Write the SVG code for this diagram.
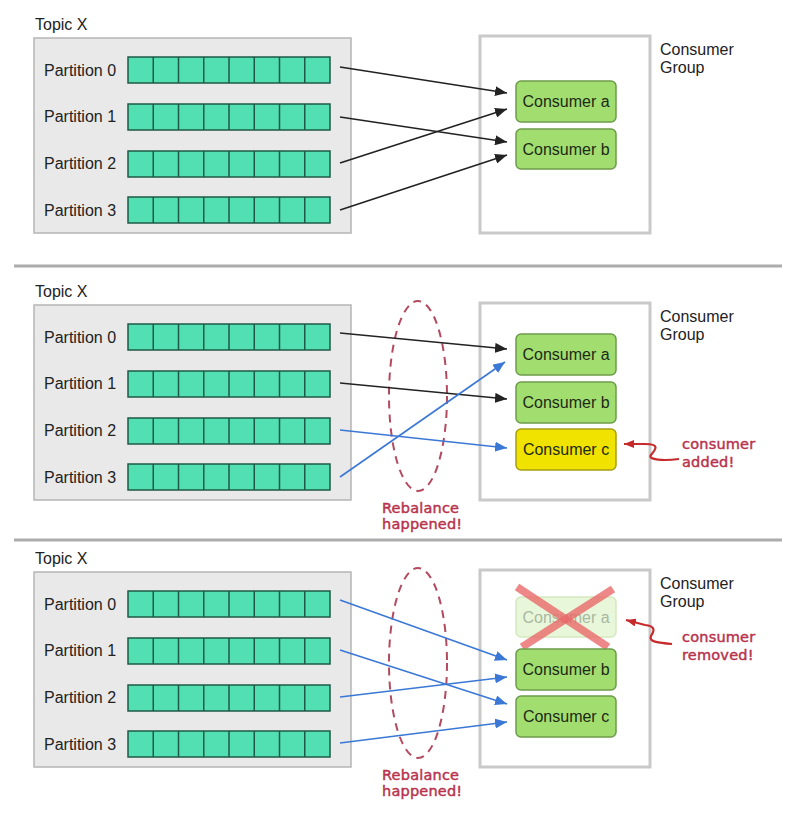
<svg xmlns="http://www.w3.org/2000/svg" xmlns:xlink="http://www.w3.org/1999/xlink" width="802" height="821" viewBox="0 0 802 821">
<style>
  .bg{fill:#ffffff}
  .lbl{font-family:"Liberation Sans",Arial,sans-serif;font-size:16px;fill:#222}
  .topic{font-family:"Liberation Sans",Arial,sans-serif;font-size:16px;fill:#222}
  .tbox{fill:#e9e9e9;stroke:#b5b5b5;stroke-width:1.5}
  .gbox{fill:#ffffff;stroke:#c9c9c9;stroke-width:3}
  .cell{fill:#52dfb2;stroke:#1e5a45;stroke-width:1.5}
  .cons{fill:#a2dd70;stroke:#6c9c4a;stroke-width:1.5}
  .consY{fill:#f1e300;stroke:#a79f10;stroke-width:1.5}
  .consF{fill:#e8f7da;stroke:#d3e9c0;stroke-width:1.5}
  .ctext{font-family:"Liberation Sans",Arial,sans-serif;font-size:16px;fill:#1c2a14;text-anchor:middle}
  .ctextF{font-family:"Liberation Sans",Arial,sans-serif;font-size:16px;fill:#a9b8a2;text-anchor:middle}
  .blk{stroke:#222;stroke-width:1.6;fill:none;marker-end:url(#ab)}
  .blu{stroke:#3b78d6;stroke-width:1.6;fill:none;marker-end:url(#au)}
  .ell{fill:none;stroke:#b34a60;stroke-width:2;stroke-dasharray:8 6}
  .hand{font-family:"DejaVu Sans",sans-serif;font-size:14.5px;fill:#b8324c;stroke:#b8324c;stroke-width:0.45;letter-spacing:0.2px}
  .red{fill:none;stroke:#c62a2a;stroke-width:2.2;marker-end:url(#ar)}
  .div{stroke:#acacac;stroke-width:3}
  .xmark{stroke:#ea6a6a;stroke-width:8;opacity:0.8;stroke-linecap:butt}
</style>
<defs>
  <marker id="ab" markerUnits="userSpaceOnUse" markerWidth="12" markerHeight="10" refX="12" refY="5" orient="auto"><path d="M0,0 L12,5 L0,10 Z" fill="#222"/></marker>
  <marker id="au" markerUnits="userSpaceOnUse" markerWidth="12" markerHeight="10" refX="12" refY="5" orient="auto"><path d="M0,0 L12,5 L0,10 Z" fill="#3b78d6"/></marker>
  <marker id="ar" markerUnits="userSpaceOnUse" markerWidth="10" markerHeight="8" refX="10" refY="4" orient="auto"><path d="M0,0 L10,4 L0,8 Z" fill="#c62a2a"/></marker>
  <g id="bar">
    <rect class="cell" x="128" y="0" width="202" height="26"/>
    <path d="M153.25,0 V26 M178.5,0 V26 M203.75,0 V26 M229,0 V26 M254.25,0 V26 M279.5,0 V26 M304.75,0 V26" stroke="#1e5a45" stroke-width="1.5"/>
  </g>
  <g id="topic">
    <text class="topic" x="35" y="30">Topic X</text>
    <rect class="tbox" x="34" y="38" width="317" height="195"/>
    <text class="lbl" x="44" y="76">Partition 0</text>
    <text class="lbl" x="44" y="122">Partition 1</text>
    <text class="lbl" x="44" y="169">Partition 2</text>
    <text class="lbl" x="44" y="216">Partition 3</text>
    <use xlink:href="#bar" y="57"/>
    <use xlink:href="#bar" y="104"/>
    <use xlink:href="#bar" y="151"/>
    <use xlink:href="#bar" y="197"/>
  </g>
</defs>
<rect class="bg" x="0" y="0" width="802" height="821"/>

<!-- dividers -->
<line class="div" x1="14" y1="266" x2="782" y2="266"/>
<line class="div" x1="14" y1="540" x2="782" y2="540"/>

<!-- Section 1 -->
<g id="topic1"><use xlink:href="#topic"/></g>
<g id="group1">
  <rect class="gbox" x="480" y="36" width="170" height="197"/>
  <text class="lbl" x="660" y="55">Consumer</text>
  <text class="lbl" x="660" y="73">Group</text>
</g>
<g id="s1-consumer-a"><rect class="cons" x="516" y="81" width="100" height="41" rx="5"/><text class="ctext" x="566" y="107">Consumer a</text></g>
<g id="s1-consumer-b"><rect class="cons" x="516" y="129" width="100" height="40" rx="5"/><text class="ctext" x="566" y="155">Consumer b</text></g>

<!-- Section 2 -->
<g id="topic2"><use xlink:href="#topic" y="267"/></g>
<g id="group2">
  <rect class="gbox" x="480" y="303" width="170" height="197"/>
  <text class="lbl" x="660" y="322">Consumer</text>
  <text class="lbl" x="660" y="340">Group</text>
</g>
<g id="s2-consumer-a"><rect class="cons" x="516" y="334" width="100" height="41" rx="5"/><text class="ctext" x="566" y="360">Consumer a</text></g>
<g id="s2-consumer-b"><rect class="cons" x="516" y="382" width="100" height="41" rx="5"/><text class="ctext" x="566" y="408">Consumer b</text></g>
<g id="s2-consumer-c"><rect class="consY" x="516" y="429" width="100" height="41" rx="5"/><text class="ctext" x="566" y="455">Consumer c</text></g>
<g id="s2-rebalance">
  <ellipse class="ell" cx="418" cy="396" rx="29" ry="95"/>
  <text class="hand" x="382" y="513">Rebalance</text>
  <text class="hand" x="382" y="529">happened!</text>
</g>
<g id="s2-note">
  <text class="hand" x="682" y="449">consumer</text>
  <text class="hand" x="682" y="467">added!</text>
</g>

<!-- Section 3 -->
<g id="topic3"><use xlink:href="#topic" y="534"/></g>
<g id="group3">
  <rect class="gbox" x="480" y="570" width="170" height="197"/>
  <text class="lbl" x="660" y="589">Consumer</text>
  <text class="lbl" x="660" y="607">Group</text>
</g>
<g id="s3-consumer-a"><rect class="consF" x="516" y="597" width="100" height="40" rx="5"/><text class="ctextF" x="566" y="623">Consumer a</text>
  <line class="xmark" x1="517" y1="587" x2="608" y2="647"/>
  <line class="xmark" x1="613" y1="589" x2="522" y2="647"/>
</g>
<g id="s3-consumer-b"><rect class="cons" x="516" y="649" width="100" height="41" rx="5"/><text class="ctext" x="566" y="675">Consumer b</text></g>
<g id="s3-consumer-c"><rect class="cons" x="516" y="696" width="100" height="41" rx="5"/><text class="ctext" x="566" y="722">Consumer c</text></g>
<g id="s3-rebalance">
  <ellipse class="ell" cx="418" cy="663" rx="29" ry="95"/>
  <text class="hand" x="382" y="780">Rebalance</text>
  <text class="hand" x="382" y="796">happened!</text>
</g>
<g id="s3-note">
  <text class="hand" x="682" y="642">consumer</text>
  <text class="hand" x="682" y="660">removed!</text>
</g>

<!-- connectors -->
<g id="connectors">
  <line class="blk" x1="340" y1="67" x2="507" y2="93"/>
  <line class="blk" x1="340" y1="117" x2="507" y2="142"/>
  <line class="blk" x1="340" y1="163" x2="507" y2="109"/>
  <line class="blk" x1="340" y1="210" x2="507" y2="155"/>

  <line class="blk" x1="340" y1="333" x2="507" y2="349"/>
  <line class="blk" x1="340" y1="383" x2="507" y2="399"/>
  <line class="blu" x1="340" y1="430" x2="507" y2="448"/>
  <line class="blu" x1="340" y1="477" x2="505" y2="362"/>

  <line class="blu" x1="340" y1="600" x2="507" y2="660"/>
  <line class="blu" x1="340" y1="650" x2="507" y2="704"/>
  <line class="blu" x1="340" y1="697" x2="507" y2="677"/>
  <line class="blu" x1="340" y1="743" x2="507" y2="722"/>

  <path class="red" d="M679,459 C664,461 647,460 651,455 C656,449 660,444 645,444 L624,444"/>
  <path class="red" d="M672,644 C660,643 648,642 651,636 C655,630 655,626 645,625 L626,620"/>
</g>
</svg>
